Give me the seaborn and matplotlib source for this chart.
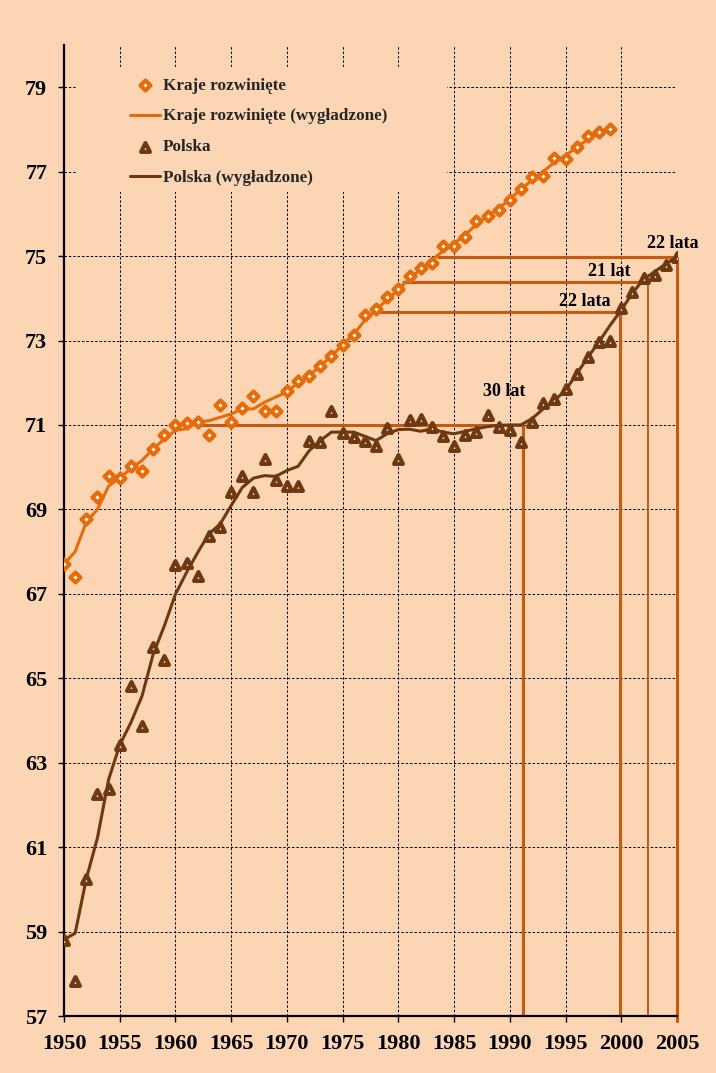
import numpy as np
import pandas as pd
import matplotlib
matplotlib.use("Agg")
import matplotlib.pyplot as plt
from matplotlib.patches import Rectangle
import seaborn as sns

# --- data ---
years_dev = list(range(1950, 2000))
dev_points = [67.70, 67.39, 68.77, 69.29, 69.78, 69.75, 70.02, 69.92, 70.43, 70.77,
              70.99, 71.05, 71.08, 70.75, 71.48, 71.08, 71.40, 71.68, 71.34, 71.33,
              71.80, 72.03, 72.16, 72.40, 72.63, 72.90, 73.12, 73.60, 73.74, 74.02,
              74.21, 74.53, 74.72, 74.84, 75.25, 75.24, 75.46, 75.84, 75.96, 76.10,
              76.33, 76.60, 76.88, 76.90, 77.32, 77.30, 77.59, 77.84, 77.93, 78.00]
dev_smooth = [67.70, 68.00, 68.70, 69.00, 69.55, 69.75, 69.96, 70.16, 70.43, 70.67,
              70.87, 70.91, 71.07, 71.10, 71.18, 71.26, 71.38, 71.38, 71.54, 71.66,
              71.78, 72.00, 72.17, 72.40, 72.63, 72.90, 73.15, 73.48, 73.72, 73.97,
              74.20, 74.47, 74.68, 74.90, 75.12, 75.30, 75.50, 75.75, 75.95, 76.12,
              76.35, 76.58, 76.80, 77.00, 77.22, 77.38, 77.58, 77.76, 77.90, 78.00]

years_pl = list(range(1950, 2006))
pl_points = [58.81, 57.82, 60.25, 62.25, 62.37, 63.42, 64.82, 63.87, 65.75, 65.43,
             67.69, 67.74, 67.43, 68.38, 68.59, 69.41, 69.78, 69.41, 70.20, 69.70,
             69.56, 69.56, 70.62, 70.59, 71.33, 70.81, 70.71, 70.62, 70.51, 70.92,
             70.20, 71.12, 71.13, 70.95, 70.73, 70.49, 70.75, 70.83, 71.24, 70.95,
             70.87, 70.59, 71.07, 71.52, 71.62, 71.86, 72.21, 72.61, 72.97, 72.98,
             73.77, 74.15, 74.48, 74.56, 74.80, 74.98]
pl_smooth = [58.81, 58.96, 60.25, 61.22, 62.60, 63.42, 63.95, 64.58, 65.57, 66.24,
             66.99, 67.51, 67.98, 68.42, 68.65, 69.09, 69.52, 69.74, 69.80, 69.78,
             69.92, 70.02, 70.39, 70.63, 70.83, 70.83, 70.83, 70.73, 70.63, 70.79,
             70.89, 70.90, 70.85, 70.91, 70.83, 70.79, 70.85, 70.91, 70.96, 70.99,
             71.00, 71.00, 71.15, 71.38, 71.58, 71.82, 72.21, 72.60, 72.97, 73.36,
             73.72, 74.12, 74.45, 74.63, 74.82, 74.98]

# catch-up markers: level, year developed countries reached it, year Poland reached it
gap_levels = [71.0, 73.68, 74.39, 74.98]
gap_from = [1961.9, 1977.75, 1980.35, 1983.45]
gap_to = [1991.2, 1999.9, 2002.4, 2005.0]
gap_labels = ["30 lat", "22 lata", "21 lat", "22 lata"]
gap_label_xy = [(1989.5, 71.79), (1996.7, 73.92), (1998.9, 74.64), (2004.6, 75.30)]

df_dev = pd.DataFrame({"rok": years_dev, "punkty": dev_points, "wygl": dev_smooth})
df_pl = pd.DataFrame({"rok": years_pl, "punkty": pl_points, "wygl": pl_smooth})

BG = "#FCD5B5"
ORANGE = "#E46C0A"
BROWN = "#6E3810"
GAPCOL = "#C55A11"

sns.set_style("ticks")
plt.rcParams["font.family"] = ["Liberation Serif", "DejaVu Serif"]
plt.rcParams["font.weight"] = "bold"

fig = plt.figure(figsize=(7.16, 10.73), dpi=100, facecolor=BG)
ax = fig.add_axes([0.0894, 0.0531, 0.8561, 0.905])
ax.set_facecolor(BG)

# smoothed + raw series, in legend order
sns.scatterplot(data=df_dev, x="rok", y="punkty", ax=ax, marker="D", s=26,
                facecolor="white", edgecolor=ORANGE, linewidth=3.0,
                label="Kraje rozwinięte", zorder=4)
sns.lineplot(data=df_dev, x="rok", y="wygl", ax=ax, color=ORANGE, lw=2.2,
             label="Kraje rozwinięte (wygładzone)", zorder=3)
sns.scatterplot(data=df_pl, x="rok", y="punkty", ax=ax, marker="^", s=40,
                facecolor="white", edgecolor=BROWN, linewidth=3.0,
                label="Polska", zorder=4)
sns.lineplot(data=df_pl, x="rok", y="wygl", ax=ax, color=BROWN, lw=2.2,
             label="Polska (wygładzone)", zorder=3)

# catch-up lines
for i, (lev, x0, x1) in enumerate(zip(gap_levels, gap_from, gap_to)):
    lw = 1.4 if i == 2 else 2.2
    ax.plot([x0, x1], [lev, lev], color=GAPCOL, lw=2.2, zorder=2.5, solid_capstyle="butt")
    ybot = 56.85 if i == 3 else 57
    ax.plot([x1, x1], [lev, ybot], color=GAPCOL, lw=lw, zorder=2.5,
            clip_on=False, solid_capstyle="butt")
for lab, (tx, ty) in zip(gap_labels, gap_label_xy):
    ax.text(tx, ty, lab, ha="center", va="center", fontsize=13, fontweight="bold",
            color="black", zorder=5)

ax.set_xlim(1950, 2005)
ax.set_ylim(57, 80)
ax.set_xticks(range(1950, 2006, 5))
ax.set_yticks(range(57, 80, 2))
ax.grid(True, color="black", ls=(0, (2.5, 2)), lw=0.7)
ax.set_axisbelow(True)
ax.set_xlabel("")
ax.set_ylabel("")
for s in ["top", "right"]:
    ax.spines[s].set_visible(False)
for s in ["left", "bottom"]:
    ax.spines[s].set_linewidth(1.6)
    ax.spines[s].set_color("black")
ax.tick_params(axis="both", direction="out", length=4, width=1, colors="black",
               labelsize=16)
ax.tick_params(axis="y", pad=8)
ax.tick_params(axis="x", pad=9)
for t in ax.get_xticklabels() + ax.get_yticklabels():
    t.set_fontweight("bold")

# legend area blanks out the grid, like the original
ax.add_patch(Rectangle((0.0196, 0.849), 0.6052, 0.128, transform=ax.transAxes,
                       facecolor=BG, edgecolor="none", zorder=1))
handles, labels = ax.get_legend_handles_labels()
leg = ax.legend(handles, labels, loc="upper left", bbox_to_anchor=(0.108, 0.966),
                frameon=False, fontsize=12.3, handlelength=1.75, handletextpad=0.15,
                labelspacing=0.85, borderpad=0, borderaxespad=0)
for t in leg.get_texts():
    t.set_fontweight("bold")

fig.savefig("out.png", dpi=100, facecolor=BG)
